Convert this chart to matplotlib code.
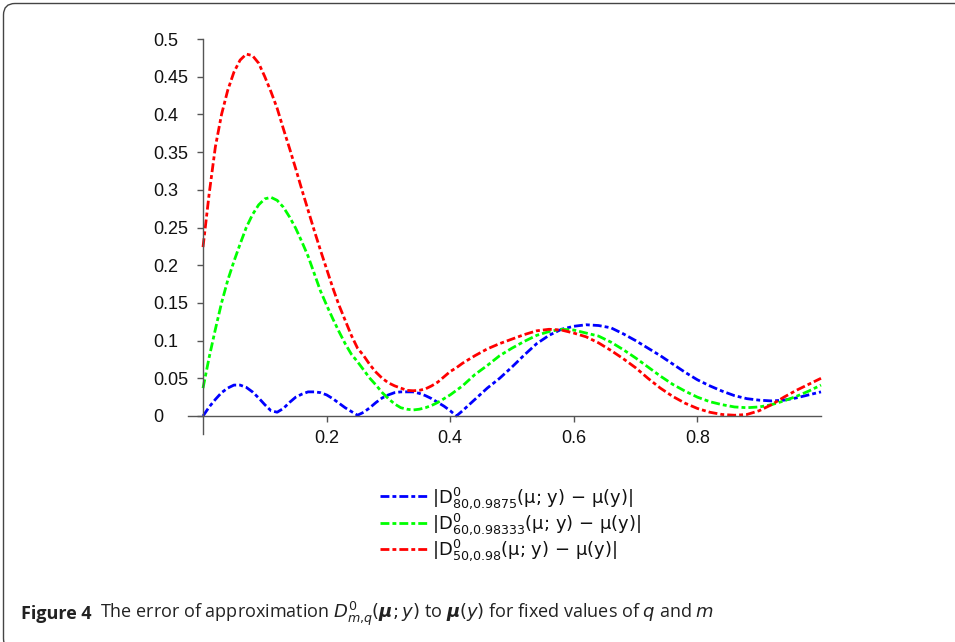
import matplotlib
matplotlib.use("Agg")
import matplotlib.pyplot as plt
from matplotlib.patches import FancyBboxPatch

# ---------------- data ----------------
x = [0.00, 0.01, 0.02, 0.03, 0.04, 0.05, 0.06, 0.07, 0.08, 0.09,
     0.10, 0.11, 0.12, 0.13, 0.14, 0.15, 0.16, 0.17, 0.18, 0.19,
     0.20, 0.21, 0.22, 0.23, 0.24, 0.25, 0.26, 0.27, 0.28, 0.29,
     0.30, 0.31, 0.32, 0.33, 0.34, 0.35, 0.36, 0.37, 0.38, 0.39,
     0.40, 0.41, 0.42, 0.44, 0.46, 0.48, 0.50, 0.52, 0.54, 0.56, 0.58,
     0.60, 0.62, 0.64, 0.66, 0.68, 0.70, 0.72, 0.74, 0.76, 0.78,
     0.80, 0.82, 0.84, 0.86, 0.88, 0.90, 0.92, 0.94, 0.96, 0.98, 1.00]

err_m80 = [0.000, 0.012, 0.022, 0.031, 0.037, 0.041, 0.041, 0.038, 0.032, 0.024,
           0.015, 0.007, 0.005, 0.010, 0.018, 0.025, 0.029, 0.032, 0.032, 0.031,
           0.028, 0.023, 0.017, 0.011, 0.006, 0.001, 0.005, 0.011, 0.018, 0.024,
           0.028, 0.031, 0.032, 0.032, 0.032, 0.030, 0.027, 0.023, 0.018, 0.013,
           0.007, 0.000, 0.007, 0.022, 0.037, 0.050, 0.065, 0.081, 0.096, 0.107, 0.115,
           0.119, 0.121, 0.120, 0.117, 0.109, 0.100, 0.090, 0.080, 0.069, 0.058,
           0.048, 0.040, 0.033, 0.027, 0.023, 0.021, 0.020, 0.021, 0.024, 0.028, 0.032]

err_m60 = [0.037, 0.078, 0.115, 0.150, 0.180, 0.205, 0.228, 0.250, 0.267, 0.280,
           0.288, 0.290, 0.286, 0.277, 0.264, 0.249, 0.231, 0.212, 0.189, 0.166,
           0.147, 0.129, 0.112, 0.096, 0.082, 0.072, 0.061, 0.050, 0.041, 0.031,
           0.023, 0.016, 0.011, 0.009, 0.008, 0.009, 0.011, 0.014, 0.018, 0.023,
           0.028, 0.034, 0.040, 0.055, 0.067, 0.080, 0.090, 0.099, 0.107, 0.112, 0.115,
           0.114, 0.110, 0.106, 0.098, 0.088, 0.077, 0.065, 0.053, 0.042, 0.033,
           0.025, 0.019, 0.015, 0.012, 0.011, 0.012, 0.015, 0.020, 0.026, 0.033, 0.041]

err_m50 = [0.224, 0.295, 0.357, 0.400, 0.432, 0.456, 0.472, 0.480, 0.478, 0.468,
           0.450, 0.430, 0.408, 0.381, 0.355, 0.328, 0.300, 0.273, 0.246, 0.220,
           0.195, 0.170, 0.147, 0.127, 0.107, 0.090, 0.080, 0.068, 0.058, 0.050,
           0.044, 0.040, 0.037, 0.034, 0.0335, 0.034, 0.036, 0.040, 0.045, 0.052,
           0.059, 0.064, 0.070, 0.080, 0.089, 0.096, 0.102, 0.108, 0.113, 0.115, 0.114,
           0.110, 0.105, 0.097, 0.087, 0.076, 0.064, 0.050, 0.037, 0.026, 0.017,
           0.010, 0.005, 0.002, 0.001, 0.002, 0.007, 0.015, 0.025, 0.034, 0.042, 0.050]

yticks = [0, 0.05, 0.1, 0.15, 0.2, 0.25, 0.3, 0.35, 0.4, 0.45, 0.5]
ytick_labels = ["0", "0.05", "0.1", "0.15", "0.2", "0.25", "0.3", "0.35", "0.4", "0.45", "0.5"]
xticks = [0.2, 0.4, 0.6, 0.8]
xtick_labels = ["0.2", "0.4", "0.6", "0.8"]

labels = [r"|D$^{0}_{80{,}0.9875}$(μ; y) − μ(y)|",
          r"|D$^{0}_{60{,}0.98333}$(μ; y) − μ(y)|",
          r"|D$^{0}_{50{,}0.98}$(μ; y) − μ(y)|"]
colors = ["#0000ff", "#00ff00", "#ff0000"]

# ---------------- figure ----------------
plt.rcParams["mathtext.fontset"] = "dejavusans"
W, H = 955, 642
fig = plt.figure(figsize=(W / 100, H / 100), dpi=100)

L, R, T, B = 188, 821, 39, 434
ax = fig.add_axes([L / W, (H - B) / H, (R - L) / W, (B - T) / H])
ax.set_xlim(-15 / 617.5, 1.0)
ax.set_ylim(-18 / 754, 0.5)

dash = (0, (3.2, 1.1, 1.4, 1.1))
for ys, c, lab in zip([err_m80, err_m60, err_m50], colors, labels):
    ax.plot(x, ys, color=c, lw=2.0, linestyle=dash, label=lab, clip_on=False,
            solid_capstyle="butt", dash_capstyle="butt")

for s in ["top", "right"]:
    ax.spines[s].set_visible(False)
ax.spines["left"].set_position(("data", 0))
ax.spines["bottom"].set_position(("data", 0))
for s in ["left", "bottom"]:
    ax.spines[s].set_color("#555555")
    ax.spines[s].set_linewidth(1.0)

ax.set_yticks(yticks)
ax.set_yticklabels(ytick_labels, ha="left", fontsize=13, family="Liberation Sans",
                   color="#111111")
ax.set_xticks(xticks)
ax.set_xticklabels(xtick_labels, fontsize=13, family="Liberation Sans", color="#111111")
ax.tick_params(axis="y", direction="out", length=4.5, width=1.0, color="#555555", pad=31.5)
ax.tick_params(axis="x", direction="out", length=4.0, width=1.0, color="#555555", pad=6)
ax.patch.set_visible(False)

leg = fig.legend(loc="upper left", bbox_to_anchor=(380 / W, (H - 485) / H),
                 frameon=False, fontsize=13, handlelength=2.6, handletextpad=0.3,
                 borderpad=0, borderaxespad=0, labelspacing=0.03)
for t in leg.get_texts():
    t.set_color("#111111")

# rounded border
box = FancyBboxPatch((3.5 / W, -8 / H), 990 / W, (H - 3.5 + 8) / H,
                     boxstyle="round,pad=0,rounding_size=0.012",
                     transform=fig.transFigure, fill=False, edgecolor="#444444",
                     linewidth=1.0, mutation_aspect=W / H)
fig.patches.append(box)

# caption
cap_y = (H - 614) / H
t1 = fig.text(21 / W, cap_y, "Figure 4", fontsize=13, fontweight="bold",
              family="Open Sans", va="center", color="#222222")
fig.canvas.draw()
bb = t1.get_window_extent()
fig.text((bb.x1 + 8) / W, cap_y,
         r"The error of approximation $D^{0}_{m{,}q}(\boldsymbol{\mu};y)$ to "
         r"$\boldsymbol{\mu}(y)$ for fixed values of $q$ and $m$",
         fontsize=13, family="Open Sans", va="center", color="#222222")

fig.savefig("out.png", dpi=100)
